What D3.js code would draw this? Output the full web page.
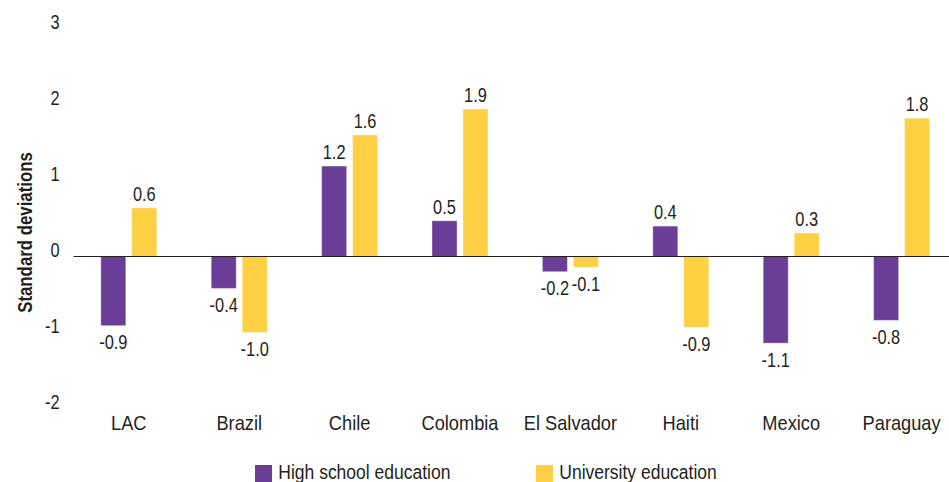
<!DOCTYPE html>
<html>
<head>
<meta charset="utf-8">
<script src="https://cdn.jsdelivr.net/npm/d3@7/dist/d3.min.js"></script>
<style>
  html, body { margin: 0; padding: 0; background: #fff; }
  svg { display: block; }
  text { font-family: "Liberation Sans", Arial, sans-serif; fill: #231f20; }
</style>
</head>
<body>
<svg id="chart" width="949" height="482"></svg>
<script>
const categories = ["LAC", "Brazil", "Chile", "Colombia", "El Salvador", "Haiti", "Mexico", "Paraguay"];
const highSchool = [-0.91, -0.42, 1.19, 0.47, -0.20, 0.40, -1.14, -0.84];
const university = [0.64, -1.00, 1.60, 1.94, -0.14, -0.93, 0.31, 1.82];
const seriesNames = ["High school education", "University education"];
const seriesColors = ["#6a3e96", "#ffd043"];
const yTicks = [-2, -1, 0, 1, 2, 3];
const yTitle = "Standard deviations";

const svg = d3.select("#chart");
const W = 949;

const x0 = d3.scaleBand().domain(categories).range([73.6, 956.8]).paddingInner(0.493).paddingOuter(0.2465);
const x1 = d3.scaleBand().domain([0, 1]).range([0, x0.bandwidth()]).paddingInner(0.1935).paddingOuter(0);
const y = d3.scaleLinear().domain([-2, 3]).range([408.5, 28.5]);
const fmt = d3.formatLocale({ decimal: ".", thousands: ",", grouping: [3], currency: ["", ""], minus: "-" }).format(".1f");

// narrow-text helper: position via transform and squeeze horizontally
function place(sel, fx, fy, sx) {
  return sel.attr("transform", (d, i) => `translate(${fx(d, i)},${fy(d, i)}) scale(${sx},1)`);
}

// y tick labels
place(svg.append("g").selectAll("text").data(yTicks).join("text"),
  d => 59.5, d => y(d), 0.82)
  .attr("text-anchor", "end")
  .style("font-size", "20px")
  .text(d => d);

// y title
svg.append("text")
  .attr("transform", `translate(32,232.5) rotate(-90) scale(0.82,1)`)
  .attr("text-anchor", "middle")
  .style("font-size", "20.5px").style("font-weight", "bold")
  .text(yTitle);

const rows = categories.map((c, i) => ({ c, vals: [highSchool[i], university[i]] }));

const groups = svg.append("g").selectAll("g").data(rows).join("g")
  .attr("transform", d => `translate(${x0(d.c)},0)`);

groups.selectAll("rect").data(d => d.vals.map((v, s) => ({ v, s }))).join("rect")
  .attr("x", d => x1(d.s))
  .attr("width", x1.bandwidth())
  .attr("y", d => y(Math.max(0, d.v)))
  .attr("height", d => Math.abs(y(d.v) - y(0)))
  .attr("fill", d => seriesColors[d.s])
  .attr("stroke", "#ffffff").attr("stroke-opacity", 0.35).attr("stroke-width", 1);

place(groups.selectAll("text.val").data(d => d.vals.map((v, s) => ({ v, s }))).join("text").attr("class", "val"),
  d => x1(d.s) + x1.bandwidth() / 2,
  d => d.v >= 0 ? y(d.v) - 7 : y(d.v) + 23.5, 0.78)
  .attr("text-anchor", "middle")
  .style("font-size", "21px")
  .text(d => fmt(d.v));

// zero line
svg.append("line")
  .attr("x1", x0.range()[0]).attr("x2", W)
  .attr("y1", y(0)).attr("y2", y(0))
  .attr("stroke", "#231f20").attr("stroke-width", 1.2);

// category labels
place(svg.append("g").selectAll("text").data(categories).join("text"),
  d => x0(d) + x0.bandwidth() / 2, d => 430, 0.89)
  .attr("text-anchor", "middle")
  .style("font-size", "20.5px")
  .text(d => d);

// legend
const legendX = [255, 536];
const lg = svg.append("g").selectAll("g").data(seriesNames).join("g")
  .attr("transform", (d, i) => `translate(${legendX[i]},465)`);
lg.append("rect").attr("width", 17).attr("height", 17).attr("fill", (d, i) => seriesColors[i]);
lg.append("text").attr("transform", "translate(23.3,14) scale(0.875,1)")
  .style("font-size", "20px")
  .text(d => d);
</script>
</body>
</html>
